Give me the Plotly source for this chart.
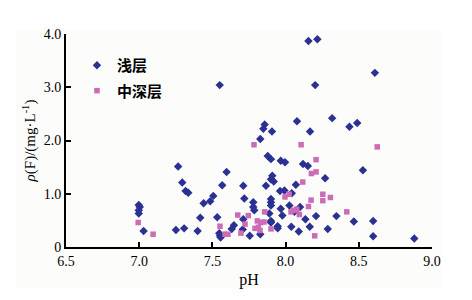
import plotly.graph_objects as go

# 浅层 (shallow) samples: pH, fluoride concentration (mg/L)
shallow_ph = [8.156, 8.217, 8.610, 7.550, 8.202, 8.318, 8.078, 8.436, 8.489, 8.167,
              7.857, 7.848, 7.907, 7.827, 7.878, 7.900, 7.967, 7.996, 8.119, 8.152,
              8.528, 8.270, 7.909, 7.900, 7.919, 7.866, 7.711, 8.070, 7.962, 7.992,
              7.718, 7.900, 7.900, 7.900, 7.779, 7.779, 7.786, 8.026, 7.967, 8.099,
              8.060, 7.889, 7.978, 8.347, 8.208, 8.135, 8.466, 8.598, 7.900, 7.900,
              7.711, 7.946, 7.946, 8.039, 8.165, 8.288, 8.090, 7.755, 7.827, 8.598,
              8.879, 7.707, 7.266, 7.294, 7.317, 7.335, 6.997, 7.004, 6.997, 6.997,
              7.030, 7.251, 7.307, 7.399, 7.417, 7.440, 7.485, 7.506, 7.533, 7.567,
              7.597, 7.547, 7.552, 7.556, 7.632, 7.647, 8.042]
shallow_f = [3.87, 3.90, 3.27, 3.04, 3.04, 2.42, 2.36, 2.26, 2.33, 2.17,
             2.30, 2.22, 2.17, 2.03, 1.71, 1.65, 1.62, 1.59, 1.56, 1.52,
             1.44, 1.29, 1.34, 1.27, 1.23, 1.15, 1.15, 1.17, 1.05, 1.06,
             0.91, 0.90, 0.84, 0.78, 0.84, 0.75, 0.69, 0.78, 0.72, 0.75,
             0.66, 0.63, 0.59, 0.58, 0.58, 0.52, 0.48, 0.49, 0.49, 0.46,
             0.52, 0.39, 0.35, 0.38, 0.38, 0.34, 0.29, 0.21, 0.24, 0.20,
             0.16, 0.33, 1.51, 1.21, 1.05, 1.02, 0.79, 0.75, 0.69, 0.63,
             0.30, 0.32, 0.35, 0.30, 0.55, 0.82, 0.86, 0.96, 0.56, 1.16,
             1.41, 0.26, 0.21, 0.18, 0.34, 0.41, 1.01]

# 中深层 (middle-deep) samples
deep_ph = [7.784, 8.106, 8.626, 8.208, 8.176, 8.208, 8.117, 7.996, 8.024, 8.254,
           8.254, 8.306, 8.174, 8.156, 8.037, 8.056, 8.076, 8.094, 8.418, 7.857,
           7.745, 7.807, 7.830, 7.853, 7.723, 7.791, 7.825, 7.900, 8.199, 7.695,
           6.993, 7.095, 7.552, 7.586, 7.606, 7.673, 7.814]
deep_f = [1.92, 1.92, 1.88, 1.64, 1.38, 1.41, 1.22, 0.94, 0.99, 0.99,
          0.87, 0.93, 0.88, 0.76, 0.66, 0.69, 0.71, 0.61, 0.66, 0.66,
          0.59, 0.49, 0.46, 0.47, 0.43, 0.35, 0.31, 0.34, 0.21, 0.26,
          0.46, 0.24, 0.39, 0.24, 0.24, 0.60, 0.37]

x_ticks = [6.5, 7.0, 7.5, 8.0, 8.5, 9.0]
x_tick_text = ["6.5", "7.0", "7.5", "8.0", "8.5", "9.0"]
y_ticks = [0, 1.0, 2.0, 3.0, 4.0]
y_tick_text = ["0", "1.0", "2.0", "3.0", "4.0"]

serif = "Liberation Serif, Times New Roman, serif"
cjk = "Noto Sans CJK SC, sans-serif"

fig = go.Figure()
fig.add_trace(go.Scatter(
    x=shallow_ph, y=shallow_f, mode="markers", name="浅层",
    marker=dict(symbol="diamond", size=6.5, color="#2B3192", line=dict(width=0)),
    legendgroup="a",
))
fig.add_trace(go.Scatter(
    x=deep_ph, y=deep_f, mode="markers", name="中深层",
    marker=dict(symbol="square", size=5.5, color="#CC6CB6", line=dict(width=0)),
    legendgroup="b",
))

axis_common = dict(
    showline=True, linecolor="black", linewidth=2,
    ticks="inside", ticklen=5, tickwidth=2, tickcolor="black",
    showgrid=False, zeroline=False,
    tickfont=dict(family=serif, size=14, color="black"),
)

fig.update_layout(
    width=472, height=300,
    margin=dict(l=66, r=40, t=34, b=53),
    paper_bgcolor="white", plot_bgcolor="rgba(0,0,0,0)",
    xaxis=dict(range=[6.5, 9.0], tickvals=x_ticks, ticktext=x_tick_text,
               title=dict(text="pH", font=dict(family=serif, size=16, color="black"), standoff=6),
               **axis_common),
    yaxis=dict(range=[0, 4.0], tickvals=y_ticks, ticktext=y_tick_text,
               title=dict(text="<i>ρ</i>(F)/(mg·L<sup>-1</sup>)",
                          font=dict(family=serif, size=15, color="black"), standoff=4),
               **axis_common),
    legend=dict(x=0.03, y=0.93, xanchor="left", yanchor="top",
                bgcolor="rgba(0,0,0,0)", traceorder="grouped", tracegroupgap=3,
                font=dict(family=cjk, size=15, color="black", weight="bold")),
    shapes=[dict(type="rect", xref="paper", yref="paper", layer="below",
                 x0=-0.135, x1=1.0255, y0=-0.1925, y1=1.019,
                 fillcolor="#FCFCFA", line=dict(width=0))],
)

fig.write_html("out.html")
